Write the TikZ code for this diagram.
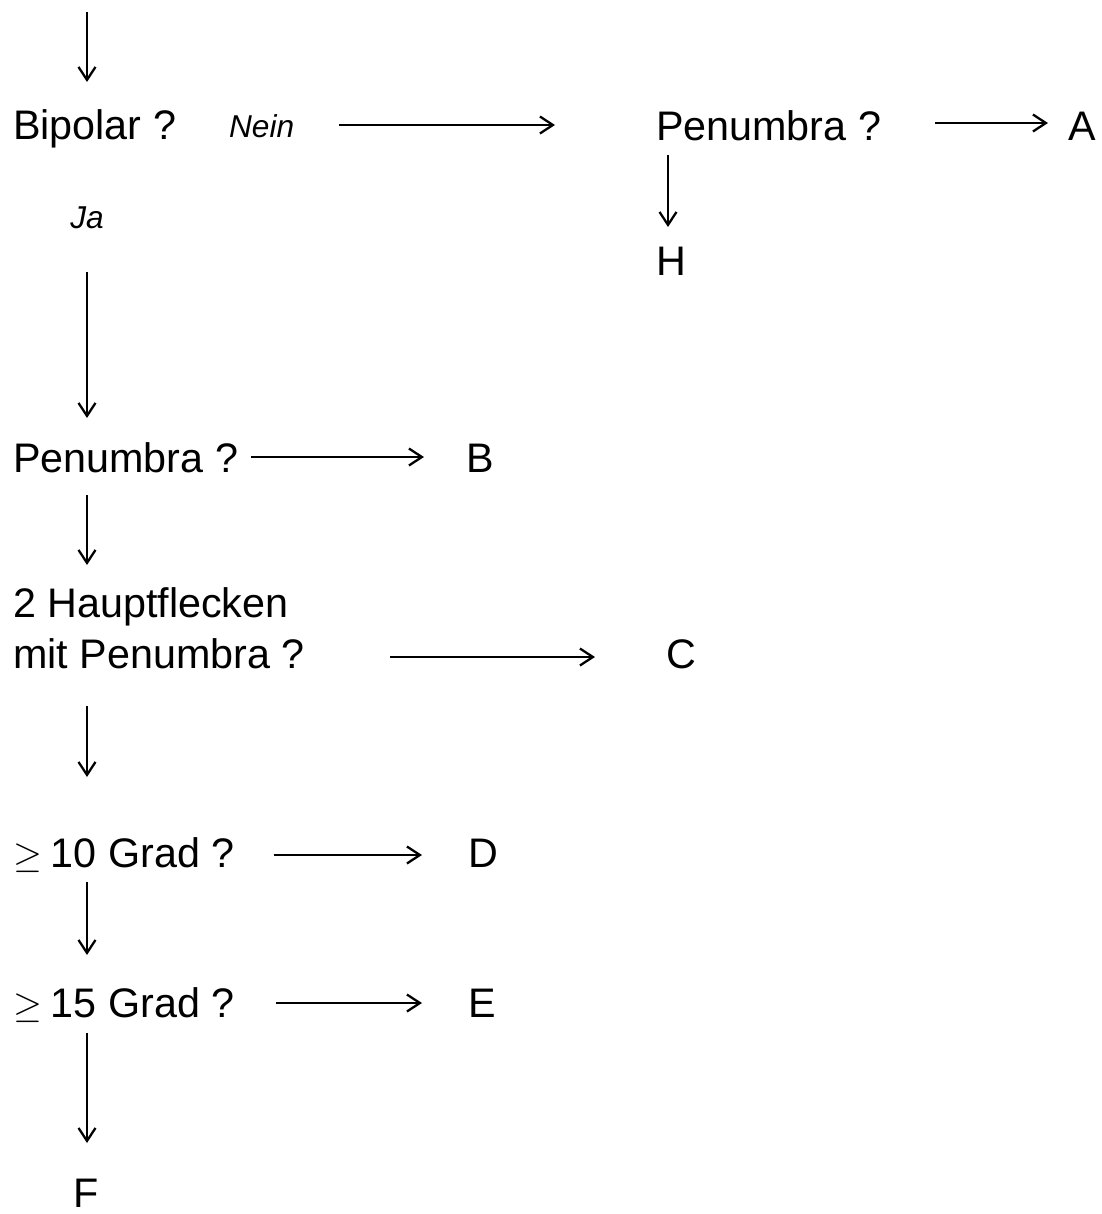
\documentclass[tikz,border=0pt]{standalone}
\usepackage{fontspec}
\setmainfont{Liberation Sans}
\usepackage{tikz}
\usetikzlibrary{arrows.meta}

\newcommand{\atleast}{\scalebox{0.85}{$\geq$}\kern-1.5pt}

\begin{document}
\begin{tikzpicture}[x=0.02cm,y=-0.02cm,line width=1.3pt,
				>={Straight Barb[length=2.6mm,width=3.4mm]},
				box/.style={anchor=base west,inner sep=0pt,
					font=\fontsize{23.5}{28.5}\selectfont},
				answer/.style={anchor=base west,inner sep=0pt,
					font=\fontsize{18}{21}\selectfont\itshape}]
				\useasboundingbox (0,0) rectangle (1102,1214);
				
				\coordinate (start) at (87,12);
				\node[box] (bip) at (12,139) {Bipolar ?};
				\node[answer] (nein) at (228,137) {Nein};
				\node[answer,anchor=base] (ja) at (87,228) {Ja};
				\node[box] (penT) at (655,140) {Penumbra ?};
				\node[box] (nA) at (1067,140) {A};
				\node[box] (nH) at (655,275) {H};
				\node[box] (penB) at (12,472) {Penumbra ?};
				\node[box] (nB) at (465,472) {B};
				\node[box,align=left] (haupt) at (12,668) {2 Hauptflecken\\mit Penumbra ?};
				\node[box] (nC) at (665,668) {C};
				\node[box] (g10) at (12,867) {\atleast{} 10 Grad ?};
				\node[box] (nD) at (467,867) {D};
				\node[box] (g15) at (12,1017) {\atleast{} 15 Grad ?};
				\node[box] (nE) at (467,1017) {E};
				\node[box] (nF) at (72,1207) {F};
				
				\draw[->] (start) -- ([shift={(75,-57)}]bip.base west);
				\draw[->] ([shift={(44,-12)}]nein.base east) -- ([shift={(-100,-15)}]penT.base west);
				\draw[->] ([shift={(53,-17)}]penT.base east) -- ([shift={(-19,-17)}]nA.base west);
				\draw[->] ([shift={(13,15)}]penT.base west) -- ([shift={(13,-48)}]nH.base west);
				\draw[->] ([shift={(0,44)}]ja.base) -- ([shift={(75,-54)}]penB.base west);
				\draw[->] ([shift={(12,-15)}]penB.base east) -- ([shift={(-41,-15)}]nB.base west);
				\draw[->] ([shift={(75,23)}]penB.base west) -- ([shift={(75,-103)}]haupt.base west);
				\draw[->] ([shift={(378,-11)}]haupt.base west) -- ([shift={(-70,-11)}]nC.base west);
				\draw[->] ([shift={(75,38)}]haupt.base west) -- ([shift={(75,-90)}]g10.base west);
				\draw[->] ([shift={(38,-12)}]g10.base east) -- ([shift={(-45,-12)}]nD.base west);
				\draw[->] ([shift={(75,15)}]g10.base west) -- ([shift={(75,-62)}]g15.base west);
				\draw[->] ([shift={(40,-14)}]g15.base east) -- ([shift={(-45,-14)}]nE.base west);
				\draw[->] ([shift={(75,16)}]g15.base west) -- ([shift={(15,-64)}]nF.base west);
			\end{tikzpicture}
\end{document}
